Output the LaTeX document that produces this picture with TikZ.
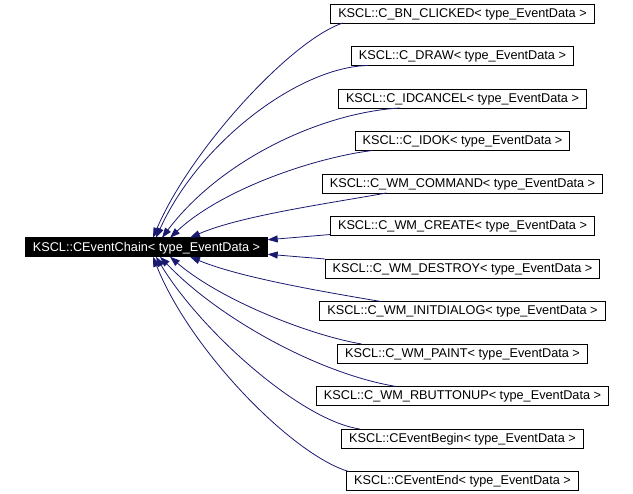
\documentclass[tikz,border=0pt]{standalone}
\usepackage{fontspec}
\setmainfont{Liberation Sans}
\usetikzlibrary{arrows.meta, positioning}
\definecolor{edgeblue}{HTML}{191970}

\begin{document}
\begin{tikzpicture}[x=1pt, y=-1pt]
    % Styles
    \tikzstyle{classbox} = [rectangle, draw=black, fill=white, line width=0.8pt,
    font=\fontsize{12.7}{14}\selectfont, inner xsep=7.5pt, inner ysep=0pt,
    outer sep=0pt, minimum height=19pt, text height=9pt, text depth=1pt]
    \tikzstyle{chainbox} = [classbox, fill=black, text=white]
    \tikzstyle{inhline} = [draw=edgeblue, line width=0.8pt,
    -{Triangle[length=10pt, width=7pt]}]

    \useasboundingbox (0,0) rectangle (633,494);

    % Nodes
    \node (chain) [chainbox] at (146.5,247.25) {KSCL::CEventChain< type\_EventData >};
    \node (c1) [classbox] at (462.5,13.5) {KSCL::C\_BN\_CLICKED< type\_EventData >};
    \node (c2) [classbox, below=23.5pt of c1] {KSCL::C\_DRAW< type\_EventData >};
    \node (c3) [classbox, below=23.5pt of c2] {KSCL::C\_IDCANCEL< type\_EventData >};
    \node (c4) [classbox, below=23.5pt of c3] {KSCL::C\_IDOK< type\_EventData >};
    \node (c5) [classbox, below=23.5pt of c4] {KSCL::C\_WM\_COMMAND< type\_EventData >};
    \node (c6) [classbox, below=23.5pt of c5] {KSCL::C\_WM\_CREATE< type\_EventData >};
    \node (c7) [classbox, below=23.5pt of c6] {KSCL::C\_WM\_DESTROY< type\_EventData >};
    \node (c8) [classbox, below=23.5pt of c7] {KSCL::C\_WM\_INITDIALOG< type\_EventData >};
    \node (c9) [classbox, below=23.5pt of c8] {KSCL::C\_WM\_PAINT< type\_EventData >};
    \node (c10) [classbox, below=23.5pt of c9] {KSCL::C\_WM\_RBUTTONUP< type\_EventData >};
    \node (c11) [classbox, below=23.5pt of c10] {KSCL::CEventBegin< type\_EventData >};
    \node (c12) [classbox, below=23.5pt of c11] {KSCL::CEventEnd< type\_EventData >};

    % Arrows
    \draw[inhline] ([xshift=12pt]c1.south west) .. controls +(-53,18) and +(37,-87) .. ([xshift=6.5pt]chain.north);
    \draw[inhline] ([xshift=17pt]c2.south west) .. controls +(-68,1) and +(44,-97) .. ([xshift=9.5pt]chain.north);
    \draw[inhline] ([xshift=61pt]c3.south west) .. controls +(-80,5) and +(58,-77) .. ([xshift=15.5pt]chain.north);
    \draw[inhline] ([xshift=17pt]c4.south west) .. controls +(-62,8) and +(50,-47) .. ([xshift=23.5pt]chain.north);
    \draw[inhline] ([xshift=64pt]c5.south west) .. controls +(-55,10) and +(50,-22) .. ([xshift=43.5pt]chain.north);
    \draw[inhline] ([yshift=1pt]c6.south west) -- ([yshift=-2pt]chain.north east);
    \draw[inhline] (c7.north west) -- ([yshift=2.5pt]chain.south east);
    \draw[inhline] ([xshift=61pt]c8.north west) .. controls +(-53,-9) and +(50,21) .. ([xshift=43.5pt]chain.south);
    \draw[inhline] ([xshift=24pt]c9.north west) .. controls +(-53,-9) and +(50,43) .. ([xshift=23.5pt]chain.south);
    \draw[inhline] ([xshift=80pt]c10.north west) .. controls +(-75,-12) and +(60,63) .. ([xshift=13.5pt]chain.south);
    \draw[inhline] ([xshift=18pt]c11.north west) .. controls +(-60,-9) and +(44,73) .. ([xshift=9.5pt]chain.south);
    \draw[inhline] ([xshift=2pt]c12.north west) .. controls +(-57,-17) and +(37,93) .. ([xshift=6.5pt]chain.south);
\end{tikzpicture}
\end{document}
